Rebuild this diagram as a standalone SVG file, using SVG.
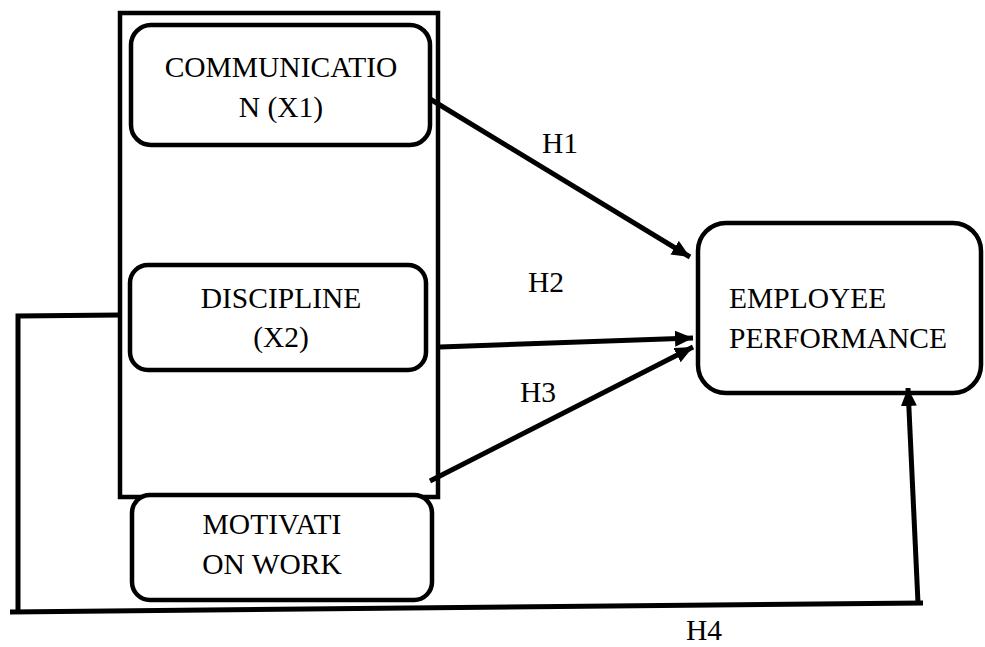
<svg xmlns="http://www.w3.org/2000/svg" width="985" height="647" viewBox="0 0 985 647">
<style>
.box{fill:#fff;stroke:#000;stroke-width:4.5}
.frame{fill:none;stroke:#000;stroke-width:4.5}
.ln{fill:none;stroke:#000;stroke-width:5;stroke-linecap:butt}
.t{font-family:'Liberation Serif','Times New Roman',Times,'DejaVu Serif',serif;font-size:29.5px;fill:#000}
.c{text-anchor:middle}
</style>
<defs>
<marker id="ah" markerUnits="userSpaceOnUse" markerWidth="20" markerHeight="18" refX="18" refY="8" orient="auto">
<path d="M0,0 L18,8 L0,16 Z" fill="#000"/>
</marker>
</defs>
<rect id="frame" class="frame" x="120" y="13" width="318" height="484"/>
<g id="communication">
<rect class="box" x="131" y="25" width="299" height="120" rx="20"/>
<text class="t c" x="281" y="77">COMMUNICATIO</text>
<text class="t c" x="281" y="117">N (X1)</text>
</g>
<g id="discipline">
<rect class="box" x="130" y="265" width="296" height="105" rx="18"/>
<text class="t c" x="281" y="308">DISCIPLINE</text>
<text class="t c" x="281" y="347">(X2)</text>
</g>
<g id="motivation">
<rect class="box" x="132" y="495" width="300" height="105" rx="18"/>
<text class="t c" x="272" y="534">MOTIVATI</text>
<text class="t c" x="272" y="574">ON WORK</text>
</g>
<g id="performance">
<rect class="box" x="698" y="223" width="283" height="170" rx="28"/>
<text class="t" x="729" y="308">EMPLOYEE</text>
<text class="t" x="729" y="348">PERFORMANCE</text>
</g>
<g id="connectors">
<line class="ln" x1="430" y1="99" x2="690" y2="257" marker-end="url(#ah)"/>
<line class="ln" x1="440" y1="347" x2="693" y2="338" marker-end="url(#ah)"/>
<line class="ln" x1="430" y1="481" x2="693" y2="347" marker-end="url(#ah)"/>
<polyline class="ln" points="120,315 18,316 18,612"/>
<line class="ln" x1="10" y1="612" x2="923" y2="603"/>
<line class="ln" x1="918" y1="603" x2="908" y2="388" marker-end="url(#ah)"/>
</g>
<g id="labels">
<text class="t" x="542" y="153">H1</text>
<text class="t" x="528" y="292">H2</text>
<text class="t" x="520" y="402">H3</text>
<text class="t" x="686" y="640">H4</text>
</g>
</svg>
